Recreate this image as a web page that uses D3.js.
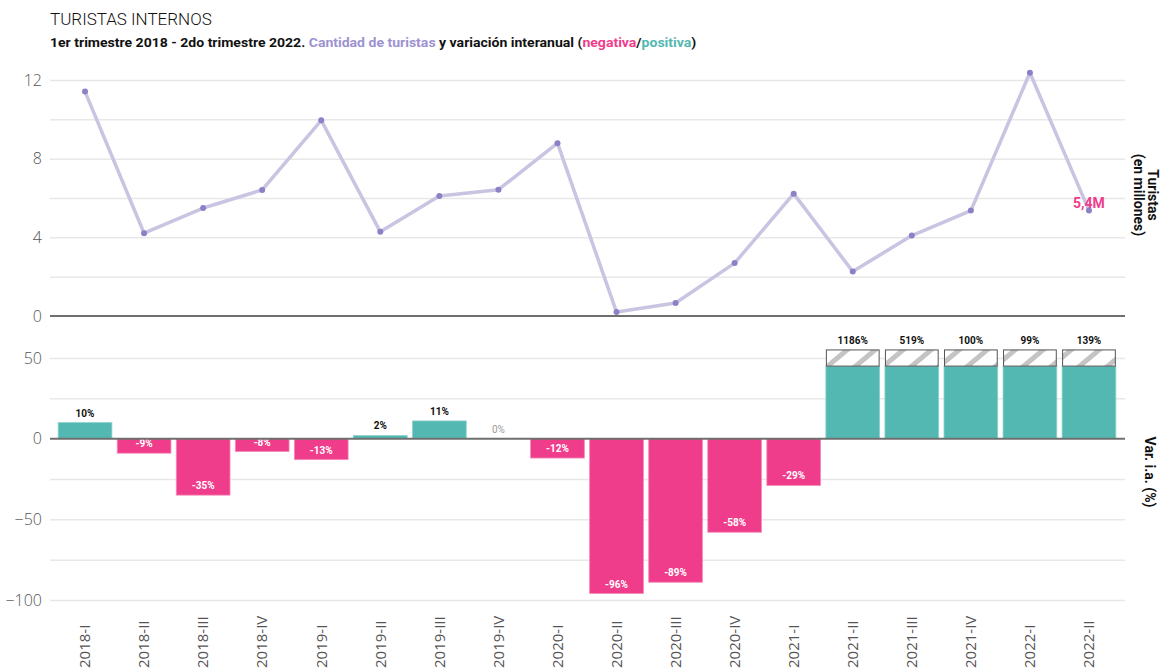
<!DOCTYPE html>
<html>
<head>
<meta charset="utf-8">
<script src="https://cdn.jsdelivr.net/npm/d3@7"></script>
<style>
  html, body { margin: 0; padding: 0; background: #fff; }
  svg { display: block; font-family: Roboto, "Open Sans", sans-serif; }
  .tick line { stroke: #e8e8e8; stroke-width: 1.5; }
  .axis .domain { display: none; }
  .axis text { fill: #555; font-size: 16px; font-family: "Open Sans", sans-serif; font-weight: 300; }
</style>
</head>
<body>
<div id="chart"></div>
<script>
var trimestres = ["2018-I","2018-II","2018-III","2018-IV","2019-I","2019-II","2019-III","2019-IV",
  "2020-I","2020-II","2020-III","2020-IV","2021-I","2021-II","2021-III","2021-IV","2022-I","2022-II"]

// turistas (millones)
var turistas = [11.41, 4.21, 5.49, 6.41, 9.95, 4.28, 6.10, 6.42, 8.79,
  0.20, 0.66, 2.69, 6.22, 2.26, 4.09, 5.36, 12.37, 5.37]

// variacion interanual (%)
var variacion = [10, -9, -35, -8, -13, 2, 11, 0, -12, -96, -89, -58, -29, 1186, 519, 100, 99, 139]

var ticksTuristas = [0, 4, 8, 12]
var gridTuristas = [2, 4, 6, 8, 10, 12]
var ticksVar = [50, 0, -50, -100]
var gridVar = [50, 25, -25, -50, -75, -100]

var PINK = "#ef3d8c", TEAL = "#52b8b1", LAV = "#c9c4e1", PURPLE = "#8d80c6"
var CAP = 45, CAP_TOP = 55

var width = 1161, height = 669
var left = 50, right = 1125

var svg = d3.select("#chart").append("svg")
  .attr("width", width)
  .attr("height", height)

var defs = svg.append("defs")
var pat = defs.append("pattern")
  .attr("id", "hatch")
  .attr("patternUnits", "userSpaceOnUse")
  .attr("width", 18).attr("height", 18)
  .attr("patternTransform", "rotate(50)")
pat.append("rect").attr("width", 18).attr("height", 18).attr("fill", "#fff")
pat.append("rect").attr("width", 5).attr("height", 18).attr("fill", "#c4c4c4")

// titles
svg.append("text")
  .attr("x", 50).attr("y", 25)
  .attr("font-size", 17).attr("font-weight", 300)
  .attr("fill", "#111")
  .text("TURISTAS INTERNOS")

var sub = svg.append("text")
  .attr("font-size", 13).attr("font-weight", 700)
  .attr("fill", "#111")
var parts = [
  ["1er trimestre 2018 - 2do trimestre 2022. ", "#111"],
  ["Cantidad de turistas", "#9d92d2"],
  [" y variación interanual (", "#111"],
  ["negativa", PINK],
  ["/", "#111"],
  ["positiva", TEAL],
  [")", "#111"]
]
parts.forEach(function(p) { sub.append("tspan").attr("fill", p[1]).text(p[0]) })
// narrow the subtitle to the condensed width of the original
var subW = sub.node().getComputedTextLength()
sub.attr("transform", "translate(50,47) scale(" + (647 / subW) + ",1)")

var x = d3.scaleBand().domain(trimestres).range([55.5, 1118.5]).paddingInner(0.09).paddingOuter(0.045)

// ---- top panel: turistas
var y1 = d3.scaleLinear().domain([0, 12]).range([316, 80])

svg.append("g")
  .attr("class", "axis")
  .attr("transform", "translate(" + left + ",0)")
  .call(d3.axisLeft(y1).tickValues(gridTuristas).tickSize(-(right - left)).tickFormat(""))
svg.append("g")
  .attr("class", "axis")
  .attr("transform", "translate(" + left + ",0)")
  .call(d3.axisLeft(y1).tickValues(ticksTuristas).tickSize(0).tickPadding(8))

svg.append("line")
  .attr("x1", left).attr("x2", right)
  .attr("y1", y1(0)).attr("y2", y1(0))
  .attr("stroke", "#6f6f6f").attr("stroke-width", 2)

var line = d3.line()
  .x(function(d, i) { return x(trimestres[i]) + x.bandwidth() / 2 })
  .y(function(d) { return y1(d) })

svg.append("path")
  .datum(turistas)
  .attr("d", line)
  .attr("fill", "none")
  .attr("stroke", LAV)
  .attr("stroke-width", 3.5)
  .attr("stroke-linejoin", "round")

svg.append("g").selectAll("circle")
  .data(turistas)
  .join("circle")
  .attr("cx", function(d, i) { return x(trimestres[i]) + x.bandwidth() / 2 })
  .attr("cy", function(d) { return y1(d) })
  .attr("r", 3)
  .attr("fill", PURPLE)

var last = turistas.length - 1
svg.append("text")
  .attr("x", x(trimestres[last]) + x.bandwidth() / 2)
  .attr("y", y1(turistas[last]) - 2)
  .attr("text-anchor", "middle")
  .attr("font-size", 14).attr("font-weight", 700)
  .attr("fill", PINK)
  .text(d3.format(".1f")(turistas[last]).replace(".", ",") + "M")

// ---- bottom panel: variacion
var y2 = d3.scaleLinear().domain([-100, 50]).range([600, 358])

svg.append("g")
  .attr("class", "axis")
  .attr("transform", "translate(" + left + ",0)")
  .call(d3.axisLeft(y2).tickValues(gridVar).tickSize(-(right - left)).tickFormat(""))
svg.append("g")
  .attr("class", "axis")
  .attr("transform", "translate(" + left + ",0)")
  .call(d3.axisLeft(y2).tickValues(ticksVar).tickSize(0).tickPadding(8))

var bars = svg.append("g")
variacion.forEach(function(v, i) {
  var bx = x(trimestres[i]), bw = x.bandwidth(), cx = bx + bw / 2
  var shown = Math.min(v, CAP)
  var top = y2(Math.max(0, shown)), bot = y2(Math.min(0, shown))
  if (v !== 0) {
    bars.append("rect")
      .attr("x", bx).attr("y", top)
      .attr("width", bw).attr("height", bot - top)
      .attr("fill", v < 0 ? PINK : TEAL)
      .attr("stroke", v < 0 ? "#f58ab8" : "#8fd3cd")
      .attr("stroke-width", 0.8)
  }
  var labelY
  if (v > CAP) {
    bars.append("rect")
      .attr("x", bx + 0.5).attr("y", y2(CAP_TOP))
      .attr("width", bw - 1).attr("height", y2(CAP) - y2(CAP_TOP))
      .attr("fill", "url(#hatch)")
      .attr("stroke", "#555").attr("stroke-width", 1)
    labelY = y2(CAP_TOP) - 6
  } else if (v >= 0) {
    labelY = top - 6
  } else {
    labelY = bot - 6
  }
  bars.append("text")
    .attr("x", cx).attr("y", labelY)
    .attr("text-anchor", "middle")
    .attr("font-size", 10)
    .attr("font-weight", v === 0 ? 400 : 700)
    .attr("fill", v === 0 ? "#9a9a9a" : (v < 0 ? "#fff" : "#111"))
    .text(v + "%")
})

svg.append("line")
  .attr("x1", left).attr("x2", right)
  .attr("y1", y2(0)).attr("y2", y2(0))
  .attr("stroke", "#6f6f6f").attr("stroke-width", 2)

// x labels (clipped by the bottom edge, like the original)
svg.append("g").selectAll("text")
  .data(trimestres)
  .join("text")
  .attr("transform", function(d) { return "translate(" + (x(d) + x.bandwidth() / 2) + ",668) rotate(-90)" })
  .attr("dy", "0.35em")
  .attr("text-anchor", "start")
  .attr("font-family", "'Open Sans', sans-serif")
  .attr("font-size", 15)
  .attr("fill", "#555")
  .text(function(d) { return d })

// right titles
svg.append("text")
  .attr("transform", "translate(1148,195) rotate(90)")
  .attr("text-anchor", "middle")
  .attr("font-size", 14).attr("font-weight", 700).attr("fill", "#111")
  .text("Turistas")
svg.append("text")
  .attr("transform", "translate(1134,195) rotate(90)")
  .attr("text-anchor", "middle")
  .attr("font-size", 14).attr("font-weight", 700).attr("fill", "#111")
  .text("(en millones)")
svg.append("text")
  .attr("transform", "translate(1145,472) rotate(90)")
  .attr("text-anchor", "middle")
  .attr("font-size", 14).attr("font-weight", 700).attr("fill", "#111")
  .text("Var. i.a. (%)")
</script>
</body>
</html>
